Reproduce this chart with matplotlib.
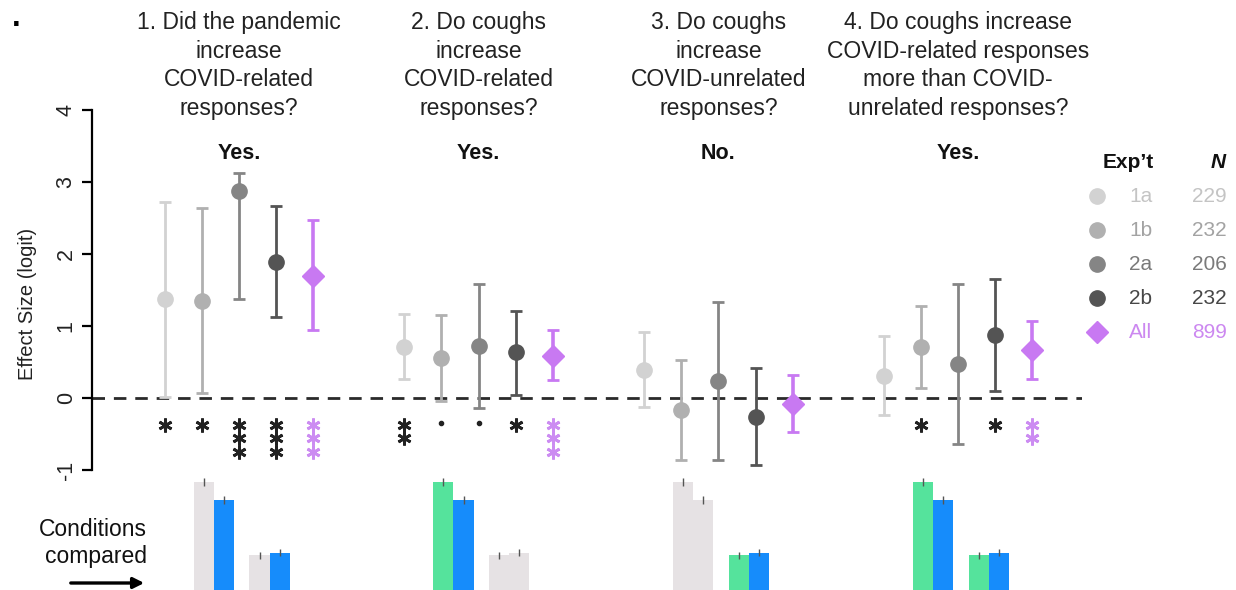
import matplotlib
matplotlib.use('Agg')
import matplotlib.pyplot as plt
from matplotlib.patches import FancyArrowPatch

plt.rcParams['font.family'] = ['Liberation Sans', 'DejaVu Sans']

# ---------------- data ----------------
questions = [
    "1. Did the pandemic\nincrease\nCOVID-related\nresponses?",
    "2. Do coughs\nincrease\nCOVID-related\nresponses?",
    "3. Do coughs\nincrease\nCOVID-unrelated\nresponses?",
    "4. Do coughs increase\nCOVID-related responses\nmore than COVID-\nunrelated responses?",
]
answers = ["Yes.", "Yes.", "No.", "Yes."]

experiments = ["1a", "1b", "2a", "2b", "All"]
n_values = [229, 232, 206, 232, 899]

q1_est = [1.37, 1.35, 2.87, 1.89, 1.70]
q1_lo = [0.02, 0.07, 1.37, 1.12, 0.94]
q1_hi = [2.72, 2.64, 3.13, 2.66, 2.47]

q2_est = [0.71, 0.56, 0.72, 0.64, 0.58]
q2_lo = [0.26, -0.04, -0.14, 0.04, 0.25]
q2_hi = [1.17, 1.15, 1.58, 1.21, 0.94]

q3_est = [0.39, -0.17, 0.24, -0.26, -0.08]
q3_lo = [-0.12, -0.86, -0.86, -0.93, -0.47]
q3_hi = [0.92, 0.53, 1.33, 0.42, 0.32]

q4_est = [0.31, 0.71, 0.47, 0.88, 0.66]
q4_lo = [-0.24, 0.14, -0.64, 0.10, 0.27]
q4_hi = [0.86, 1.28, 1.58, 1.65, 1.07]

q1_sig = ["*", "*", "***", "***", "***"]
q2_sig = ["**", ".", ".", "*", "***"]
q3_sig = ["", "", "", "", ""]
q4_sig = ["", "*", "", "*", "**"]

y_ticks = [-1, 0, 1, 2, 3, 4]
y_tick_labels = ["-1", "0", "1", "2", "3", "4"]

# bottom panel: proportion of responses in the four compared conditions
bar_values = [0.90, 0.75, 0.29, 0.31]
bar_err = [0.03, 0.03, 0.03, 0.03]
q1_bar_kind = ["grey", "blue", "grey", "blue"]
q2_bar_kind = ["green", "blue", "grey", "grey"]
q3_bar_kind = ["grey", "grey", "green", "blue"]
q4_bar_kind = ["green", "blue", "green", "blue"]

# ---------------- styles ----------------
exp_colors = ["#d2d2d2", "#b0b0b0", "#858585", "#545454", "#c879f2"]
exp_text_colors = ["#c4c4c4", "#a3a3a3", "#7a7a7a", "#474747", "#cc88f0"]
star_colors = ["#222222", "#222222", "#222222", "#222222", "#cc8cf2"]
kind_colors = {"grey": "#e6e2e4", "blue": "#168cfb", "green": "#55e39c"}

est = [q1_est, q2_est, q3_est, q4_est]
lo = [q1_lo, q2_lo, q3_lo, q4_lo]
hi = [q1_hi, q2_hi, q3_hi, q4_hi]
sig = [q1_sig, q2_sig, q3_sig, q4_sig]
bar_kinds = [q1_bar_kind, q2_bar_kind, q3_bar_kind, q4_bar_kind]

W, H = 1236, 590
fig = plt.figure(figsize=(W / 100, H / 100), dpi=100)

ax_left = 92 / W
ax_w = (1082 - 92) / W
ax = fig.add_axes([ax_left, 1 - 470 / H, ax_w, 360 / H])
xlim = (0.387, 4.517)
ax.set_xlim(*xlim)
ax.set_ylim(-1, 4)

group_centers = [1, 2, 3, 4]
exp_step = 0.155

ax.axhline(0, color="#2a2a2a", lw=2, ls=(0, (4.5, 3.2)), zorder=1)

for g, gc in enumerate(group_centers):
    for k in range(5):
        x = gc + (k - 2) * exp_step
        e = est[g][k]
        col = exp_colors[k]
        is_all = (k == 4)
        ax.errorbar([x], [e], yerr=[[e - lo[g][k]], [hi[g][k] - e]],
                    fmt="D" if is_all else "o", color=col, ecolor=col,
                    ms=11.5 if is_all else 11, mec=col, mfc=col,
                    elinewidth=2.6 if is_all else 2.0, capsize=4.5,
                    capthick=2.0, zorder=3)
        s = sig[g][k]
        if s == ".":
            ax.plot([x], [-0.35], "o", color=star_colors[k], ms=3, zorder=3)
        else:
            for i in range(len(s)):
                ax.plot([x], [-0.37 - 0.19 * i], marker=(6, 2, 0),
                        color=star_colors[k], ms=10, mew=2.0, ls="none", zorder=3)
    ax.text(gc, 3.86, questions[g], ha="center", va="bottom", fontsize=16.5,
            color="#222222", linespacing=1.31)
    ax.text(gc, 3.32, answers[g], ha="center", va="baseline", fontsize=15.5,
            fontweight="bold", color="#111111")

ax.spines[["top", "right", "bottom"]].set_visible(False)
ax.spines["left"].set_bounds(-1, 4)
ax.spines["left"].set_linewidth(1.6)
ax.set_xticks([])
ax.set_yticks(y_ticks)
ax.set_yticklabels(y_tick_labels)
ax.tick_params(axis="y", length=7, width=1.6, labelsize=15.5, pad=4,
               labelrotation=90, labelcolor="#222222")
for lab in ax.get_yticklabels():
    lab.set_va("center")
ax.set_ylabel("Effect Size (logit)", fontsize=14.5, color="#222222")
ax.yaxis.set_label_coords(-0.056, 0.46)
for t in ax.texts:
    t.set_clip_on(False)

# ---------------- bottom bar panel ----------------
axb = fig.add_axes([ax_left, 0, ax_w, 120 / H])
axb.set_xlim(*xlim)
axb.set_ylim(0, 1)
axb.axis("off")
bar_offsets = [-0.147, -0.063, 0.086, 0.170]
bar_w = 0.084
for g, gc in enumerate(group_centers):
    for j in range(4):
        x = gc + bar_offsets[j]
        axb.bar(x, bar_values[j], width=bar_w, color=kind_colors[bar_kinds[g][j]],
                edgecolor="none", zorder=2)
        axb.errorbar([x], [bar_values[j]], yerr=[bar_err[j]], fmt="none",
                     ecolor="#555555", elinewidth=1.0, capsize=0, zorder=3)

fig.text(93 / W, 1 - 530 / H, "Conditions", ha="center", va="center",
         fontsize=16.5, color="#111111")
fig.text(96 / W, 1 - 557 / H, "compared", ha="center", va="center",
         fontsize=16.5, color="#111111")
fig.add_artist(FancyArrowPatch(
    (68 / W, 1 - 583 / H), (147 / W, 1 - 583 / H), transform=fig.transFigure,
    arrowstyle="-|>", mutation_scale=16, lw=2.4, color="black"))

# ---------------- legend ----------------
fig.text(1128 / W, 1 - 163 / H, "Exp\u2019t", ha="center", va="center",
         fontsize=15, fontweight="bold", color="#111111")
fig.text(1218 / W, 1 - 163 / H, "N", ha="center", va="center",
         fontsize=15, fontweight="bold", fontstyle="italic", color="#111111")
axl = fig.add_axes([1080 / W, 1 - 350 / H, 156 / W, 170 / H])
axl.set_xlim(1080, 1236)
axl.set_ylim(350, 180)
axl.axis("off")
for k in range(5):
    yy = 196 + 34 * k
    axl.plot([1097], [yy], "D" if k == 4 else "o", color=exp_colors[k],
             ms=11, clip_on=False)
    axl.text(1129, yy, experiments[k], ha="left", va="center", fontsize=15,
             color=exp_text_colors[k])
    axl.text(1227, yy, str(n_values[k]), ha="right", va="center", fontsize=15,
             color=exp_text_colors[k])

# panel label fragment
fig.text(12 / W, 1 - 26 / H, ".", ha="left", va="baseline", fontsize=22,
         fontweight="bold", color="black")

fig.savefig("out.png", dpi=100)
